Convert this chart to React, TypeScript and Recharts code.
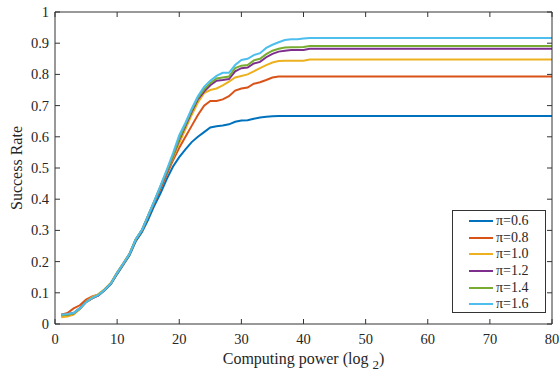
import React from 'react'
import { LineChart, Line, XAxis, YAxis, Legend, Label } from 'recharts'

// x = computing power (log2); last point holds the plateau out to 80
const xs = [1, 2, 3, 4, 5, 6, 7, 8, 9, 10, 11, 12, 13, 14, 15, 16, 17, 18, 19, 20, 21, 22, 23, 24, 25, 26, 27, 28, 29, 30, 31, 32, 33, 34, 35, 36, 37, 38, 39, 40, 41, 42, 80]

const pi06 = [0.03, 0.032, 0.035, 0.05, 0.072, 0.085, 0.092, 0.108, 0.128, 0.16, 0.19, 0.22, 0.265, 0.295, 0.335, 0.38, 0.42, 0.465, 0.505, 0.535, 0.56, 0.583, 0.6, 0.615, 0.63, 0.634, 0.636, 0.64, 0.648, 0.652, 0.653, 0.658, 0.662, 0.664, 0.666, 0.667, 0.667, 0.667, 0.667, 0.667, 0.667, 0.667, 0.667]
const pi08 = [0.03, 0.035, 0.05, 0.06, 0.078, 0.088, 0.095, 0.11, 0.13, 0.162, 0.192, 0.225, 0.27, 0.3, 0.345, 0.39, 0.435, 0.48, 0.525, 0.565, 0.6, 0.635, 0.67, 0.7, 0.715, 0.715, 0.72, 0.73, 0.748, 0.755, 0.758, 0.77, 0.775, 0.782, 0.79, 0.793, 0.793, 0.793, 0.793, 0.793, 0.793, 0.793, 0.793]
const pi10 = [0.022, 0.024, 0.03, 0.048, 0.072, 0.086, 0.096, 0.112, 0.132, 0.166, 0.195, 0.226, 0.272, 0.302, 0.348, 0.393, 0.44, 0.487, 0.533, 0.58, 0.625, 0.67, 0.71, 0.74, 0.75, 0.755, 0.765, 0.777, 0.79, 0.795, 0.8, 0.81, 0.82, 0.83, 0.838, 0.843, 0.844, 0.844, 0.844, 0.844, 0.848, 0.848, 0.848]
const pi12 = [0.028, 0.03, 0.034, 0.05, 0.07, 0.082, 0.092, 0.11, 0.13, 0.163, 0.193, 0.224, 0.271, 0.301, 0.347, 0.393, 0.44, 0.488, 0.538, 0.59, 0.635, 0.68, 0.72, 0.745, 0.765, 0.78, 0.782, 0.785, 0.81, 0.82, 0.822, 0.835, 0.84, 0.855, 0.866, 0.873, 0.876, 0.878, 0.878, 0.878, 0.882, 0.882, 0.882]
const pi14 = [0.028, 0.03, 0.034, 0.05, 0.07, 0.083, 0.093, 0.11, 0.13, 0.163, 0.193, 0.224, 0.271, 0.301, 0.347, 0.394, 0.442, 0.49, 0.54, 0.595, 0.64, 0.685, 0.725, 0.752, 0.772, 0.787, 0.79, 0.793, 0.82, 0.828, 0.83, 0.845, 0.85, 0.865, 0.876, 0.882, 0.886, 0.887, 0.887, 0.888, 0.891, 0.891, 0.891]
const pi16 = [0.03, 0.032, 0.035, 0.05, 0.07, 0.084, 0.093, 0.11, 0.13, 0.164, 0.194, 0.225, 0.272, 0.302, 0.348, 0.395, 0.444, 0.495, 0.548, 0.605, 0.645, 0.69, 0.73, 0.76, 0.78, 0.795, 0.805, 0.805, 0.83, 0.846, 0.85, 0.862, 0.868, 0.885, 0.895, 0.903, 0.91, 0.913, 0.913, 0.915, 0.917, 0.917, 0.917]

const seriesNames = ['π=0.6', 'π=0.8', 'π=1.0', 'π=1.2', 'π=1.4', 'π=1.6']
const seriesKeys = ['p06', 'p08', 'p10', 'p12', 'p14', 'p16']
const seriesColors = ['#0072BD', '#D95319', '#EDB120', '#7E2F8E', '#77AC30', '#4DBEEE']

const xTicks = [0, 10, 20, 30, 40, 50, 60, 70, 80]
const yTicks = [0, 0.1, 0.2, 0.3, 0.4, 0.5, 0.6, 0.7, 0.8, 0.9, 1]

const font = '"Liberation Serif", "Times New Roman", serif'
const axisColor = '#333333'
const textColor = '#262626'

const rows = xs.map((x, i) => ({
  x,
  p06: pi06[i],
  p08: pi08[i],
  p10: pi10[i],
  p12: pi12[i],
  p14: pi14[i],
  p16: pi16[i],
}))

const BottomTick = (props: any) => {
  const { x, y, payload } = props
  return (
    <g>
      <line x1={x} x2={x} y1={y} y2={y - 5} stroke={axisColor} />
      <text x={x} y={y + 20} textAnchor="middle" fontFamily={font} fontSize={14.5} fill={textColor}>
        {payload.value}
      </text>
    </g>
  )
}

const LeftTick = (props: any) => {
  const { x, y, payload } = props
  return (
    <g>
      <line x1={x} x2={x + 5} y1={y} y2={y} stroke={axisColor} />
      <text x={x - 6} y={y + 5} textAnchor="end" fontFamily={font} fontSize={14.5} fill={textColor}>
        {payload.value}
      </text>
    </g>
  )
}

const TopTick = (props: any) => {
  const { x, y } = props
  return <line x1={x} x2={x} y1={y} y2={y + 5} stroke={axisColor} />
}

const RightTick = (props: any) => {
  const { x, y } = props
  return <line x1={x} x2={x - 5} y1={y} y2={y} stroke={axisColor} />
}

const XTitle = (props: any) => {
  const { viewBox } = props
  const cx = viewBox.x + viewBox.width / 2
  return (
    <text x={cx} y={viewBox.y + 40} textAnchor="middle" fontFamily={font} fontSize={16} fill={textColor}>
      Computing power (log
      <tspan dx={4} dy={5} fontSize={13}>2</tspan>
      <tspan dy={-5}>)</tspan>
    </text>
  )
}

const YTitle = (props: any) => {
  const { viewBox } = props
  const cy = viewBox.y + viewBox.height / 2
  return (
    <text
      x={0}
      y={0}
      transform={`translate(22, ${cy}) rotate(-90)`}
      textAnchor="middle"
      fontFamily={font}
      fontSize={16}
      fill={textColor}
    >
      Success Rate
    </text>
  )
}

const LegendBox = () => (
  <div
    style={{
      width: 94,
      height: 103,
      border: `1px solid ${axisColor}`,
      background: '#fff',
      boxSizing: 'border-box',
      paddingTop: 2,
    }}
  >
    {seriesNames.map((name, i) => (
      <div key={name} style={{ display: 'flex', alignItems: 'center', height: 16.6 }}>
        <div style={{ width: 24, height: 2, background: seriesColors[i], marginLeft: 16 }} />
        <span style={{ marginLeft: 3, fontFamily: font, fontSize: 14, color: textColor, lineHeight: '16px' }}>
          {name}
        </span>
      </div>
    ))}
  </div>
)

export default function App() {
  return (
    <div style={{ position: 'absolute', left: 0, top: 0, width: 560, height: 374, background: '#fff' }}>
      <LineChart width={560} height={374} data={rows} margin={{ top: 11, right: 7, bottom: 0, left: 0 }}>
        <XAxis
          dataKey="x"
          type="number"
          domain={[0, 80]}
          ticks={xTicks}
          height={50}
          tickSize={0}
          tickMargin={0}
          tick={<BottomTick />}
          axisLine={{ stroke: axisColor }}
          tickLine={false}
          interval={0}
        >
          <Label content={<XTitle />} />
        </XAxis>
        <XAxis
          xAxisId="top"
          orientation="top"
          dataKey="x"
          type="number"
          domain={[0, 80]}
          ticks={xTicks}
          height={1}
          tickSize={0}
          tickMargin={0}
          tick={<TopTick />}
          axisLine={{ stroke: axisColor }}
          tickLine={false}
          interval={0}
        />
        <YAxis
          type="number"
          domain={[0, 1]}
          ticks={yTicks}
          width={55}
          tickSize={0}
          tickMargin={0}
          tick={<LeftTick />}
          axisLine={{ stroke: axisColor }}
          tickLine={false}
          interval={0}
        >
          <Label content={<YTitle />} />
        </YAxis>
        <YAxis
          yAxisId="right"
          orientation="right"
          type="number"
          domain={[0, 1]}
          ticks={yTicks}
          width={1}
          tickSize={0}
          tickMargin={0}
          tick={<RightTick />}
          axisLine={{ stroke: axisColor }}
          tickLine={false}
          interval={0}
        />
        <Legend
          layout="horizontal"
          align="center"
          verticalAlign="middle"
          content={<LegendBox />}
          wrapperStyle={{ position: 'absolute', left: 452, top: 210, width: 94, height: 103 }}
        />
        {/* invisible series so the top/right frame axes get a domain and render */}
        <Line
          xAxisId="top"
          yAxisId="right"
          dataKey="p16"
          stroke="none"
          dot={false}
          activeDot={false}
          legendType="none"
          isAnimationActive={false}
        />
        {seriesKeys.map((k, i) => (
          <Line
            key={k}
            type="linear"
            dataKey={k}
            name={seriesNames[i]}
            stroke={seriesColors[i]}
            strokeWidth={2}
            dot={false}
            activeDot={false}
            isAnimationActive={false}
          />
        ))}
      </LineChart>
    </div>
  )
}
